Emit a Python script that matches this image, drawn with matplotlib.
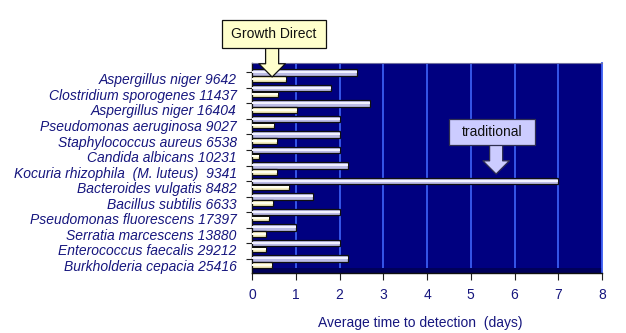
import matplotlib
matplotlib.use("Agg")
import matplotlib.pyplot as plt
from matplotlib.patches import Rectangle
import numpy as np

organisms = [
    "Aspergillus niger 9642",
    "Clostridium sporogenes 11437",
    "Aspergillus niger 16404",
    "Pseudomonas aeruginosa 9027",
    "Staphylococcus aureus 6538",
    "Candida albicans 10231",
    "Kocuria rhizophila  (M. luteus)  9341",
    "Bacteroides vulgatis 8482",
    "Bacillus subtilis 6633",
    "Pseudomonas fluorescens 17397",
    "Serratia marcescens 13880",
    "Enterococcus faecalis 29212",
    "Burkholderia cepacia 25416",
]
traditional = [2.4, 1.8, 2.7, 2.0, 2.0, 2.0, 2.2, 7.0, 1.4, 2.0, 1.0, 2.0, 2.2]
growth_direct = [0.77, 0.6, 1.02, 0.5, 0.56, 0.17, 0.58, 0.85, 0.47, 0.39, 0.31, 0.31, 0.46]
xticks = [0, 1, 2, 3, 4, 5, 6, 7, 8]

NAVY = "#000080"
TXT = "#16167e"
W, H = 626, 333

plt.rcParams["font.family"] = ["Liberation Sans", "DejaVu Sans"]

fig = plt.figure(figsize=(W / 100, H / 100), dpi=100)
ax = fig.add_axes([252 / W, 1 - 272.5 / H, 350 / W, 209.5 / H])
ax.set_facecolor(NAVY)

y = np.arange(len(organisms))
off = 0.42
h = 0.42

# light blue gridlines
for v in xticks[1:]:
    ax.axvline(v, color="#3a5cf0", lw=1.3, zorder=1)

# 3D-ish shaded bars: base bar + lighter centre stripe
ax.barh(y - off, traditional, height=h, color="#bcbce6", edgecolor="#101010", lw=0.9, zorder=3)
ax.barh(y - off - 0.02, traditional, height=h * 0.35, color="#f2f2ff", lw=0, zorder=4)
ax.barh(y, growth_direct, height=h * 0.9, color="#f6f0c0", edgecolor="#101010", lw=0.9, zorder=3)
ax.barh(y - 0.02, growth_direct, height=h * 0.3, color="#fffff0", lw=0, zorder=4)

ax.set_xlim(0, 8)
ax.set_ylim(12.48, -1.03)

ax.set_yticks(y)
ax.set_yticklabels(organisms, fontstyle="italic", fontsize=10, color=TXT)
ax.tick_params(axis="y", which="major", length=0, pad=11)
ax.set_yticks(y - off, minor=True)
ax.tick_params(axis="y", which="minor", length=4, width=0.8, direction="out", color="#202020")

ax.set_xticks(xticks)
ax.set_xticklabels([str(v) for v in xticks], fontsize=10, color=TXT)
ax.tick_params(axis="x", length=5, width=0.8, direction="out", color="#202020", pad=6)
ax.set_xlabel("Average time to detection  (days)", fontsize=10, color=TXT, labelpad=10, x=0.48)

for side in ["left", "bottom"]:
    ax.spines[side].set_color("#101010")
    ax.spines[side].set_linewidth(1.0)
ax.spines["top"].set_color("#7070a0")
ax.spines["right"].set_color("#3a5cf0")
ax.spines["right"].set_linewidth(1.3)

# darker floor strip at the bottom
ax.axhspan(12.48, 12.2, color="#00005a", lw=0, zorder=2)


def tip_px_x(xv):
    return 252 + xv * 350 / 8


def callout(text, box, tip, face, edge):
    # box = (x0, y0, x1, y1) in pixels from top-left
    x0, y0, x1, y1 = box
    cx = (x0 + x1) / 2
    ax.annotate("", xy=tip, xycoords="data",
                xytext=(tip_px_x(tip[0]), H - y1 + 1), textcoords="figure pixels",
                arrowprops=dict(width=9.4, headwidth=19, headlength=9.5,
                                facecolor=face, edgecolor=edge, lw=0.9, shrink=0),
                annotation_clip=False, zorder=6)
    fig.patches.append(Rectangle((x0 / W, 1 - y1 / H), (x1 - x0) / W, (y1 - y0) / H,
                                 transform=fig.transFigure, facecolor=face,
                                 edgecolor=edge, lw=0.9, zorder=7))
    fig.text(cx / W, 1 - (y0 + y1) / 2 / H, text, ha="center", va="center",
             fontsize=10, color="#101010", zorder=8)


callout("Growth Direct", (222, 20, 326, 48), (0.46, -0.13), "#ffffcc", "#101010")
callout("traditional", (449, 119, 535, 145), (5.58, 6.13), "#ccccff", "#303050")

fig.savefig("out.png", dpi=100)
